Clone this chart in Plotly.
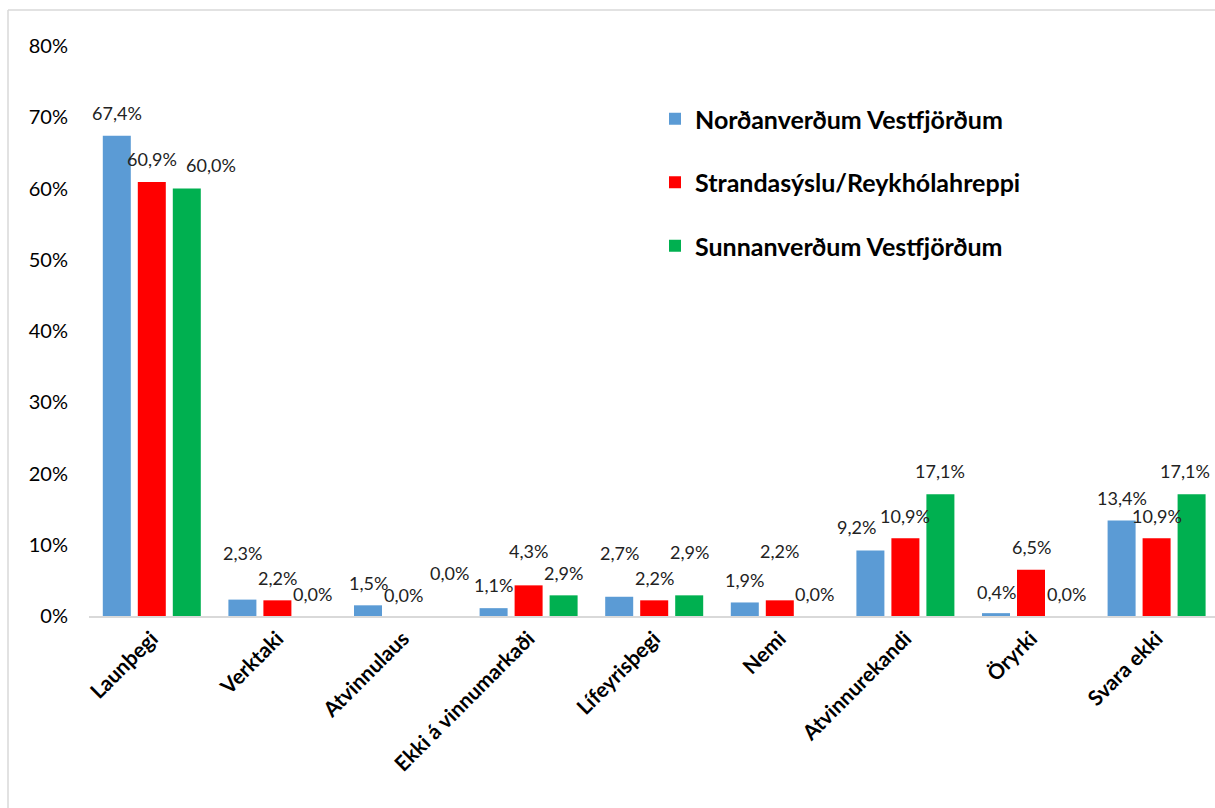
import plotly.graph_objects as go

# ---------------- data ----------------
categories = ["Launþegi", "Verktaki", "Atvinnulaus", "Ekki á vinnumarkaði",
              "Lífeyrisþegi", "Nemi", "Atvinnurekandi", "Öryrki", "Svara ekki"]
series_names = ["Norðanverðum Vestfjörðum",
                "Strandasýslu/Reykhólahreppi",
                "Sunnanverðum Vestfjörðum"]
nordan = [67.4, 2.3, 1.5, 1.1, 2.7, 1.9, 9.2, 0.4, 13.4]
stranda = [60.9, 2.2, 0.0, 4.3, 2.2, 2.2, 10.9, 6.5, 10.9]
sunnan = [60.0, 0.0, 0.0, 2.9, 2.9, 0.0, 17.1, 0.0, 17.1]
y_ticks = [0, 10, 20, 30, 40, 50, 60, 70, 80]
y_tick_labels = ["0%", "10%", "20%", "30%", "40%", "50%", "60%", "70%", "80%"]

# ---------------- styles ----------------
colors = ["#5b9bd5", "#ff0000", "#00b050"]
# label offsets in pixels (style only)
label_dy = [
    [23, 47, 22, 23, 44, 22, 23, 21, 23],
    [23, 22, 21, 34, 22, 49, 22, 23, 22],
    [24, 22, 43, 22, 43, 22, 23, 22, 23],
]
label_dx = [
    [0, 0, 0, 0, 0, 0, -14, 0, 0],
    [0, 0, 0, 0, 0, 0, 0, 0, 0],
    [24, 0, 11, 0, 0, 0, 0, 0, -7],
]
slot_px = 35

W, H = 1215, 808
ML, MR, MT, MB = 89, 0, 46, 192
plot_w = W - ML - MR
plot_h = H - MT - MB

series = [nordan, stranda, sunnan]

fig = go.Figure()
for i, (name, vals) in enumerate(zip(series_names, series)):
    fig.add_trace(go.Bar(
        x=categories, y=vals, name=name,
        marker=dict(color=colors[i], line=dict(width=0)),
        legendgroup=f"g{i}",
        hoverinfo="skip",
    ))

annotations = []
for i, vals in enumerate(series):
    for j, v in enumerate(vals):
        annotations.append(dict(
            x=categories[j], y=v, xref="x", yref="y",
            text=f"{v:.1f}".replace(".", ",") + "%",
            showarrow=False,
            xshift=(i - 1) * slot_px + label_dx[i][j],
            yshift=label_dy[i][j],
            yanchor="middle", xanchor="center",
            font=dict(family="Lato", size=18, color="#222222"),
        ))


def px_x(p):
    return (p - ML) / plot_w


def px_y(p):
    return (H - MB - p) / plot_h


shapes = [
    dict(type="line", xref="paper", yref="paper",
         x0=px_x(8), x1=px_x(8), y0=px_y(10), y1=px_y(H),
         line=dict(color="#d9d9d9", width=1.5)),
    dict(type="line", xref="paper", yref="paper",
         x0=px_x(8), x1=px_x(W), y0=px_y(10), y1=px_y(10),
         line=dict(color="#d9d9d9", width=1.5)),
]

fig.update_layout(
    width=W, height=H,
    margin=dict(l=ML, r=MR, t=MT, b=MB, autoexpand=False),
    paper_bgcolor="white", plot_bgcolor="white",
    barmode="group", bargap=0.164, bargroupgap=0.2,
    font=dict(family="Lato", color="#000000"),
    showlegend=True,
    legend=dict(
        x=px_x(655), y=px_y(96), xanchor="left", yanchor="top",
        font=dict(family="Lato", size=25, color="#000000", weight="bold"),
        tracegroupgap=28, itemwidth=30, bgcolor="rgba(0,0,0,0)",
        traceorder="grouped",
    ),
    annotations=annotations,
    shapes=shapes,
    xaxis=dict(
        range=[-0.5, 8.465],
        showgrid=False, showline=True, linecolor="#d9d9d9", linewidth=2,
        ticks="", tickangle=-45,
        tickfont=dict(family="Lato", size=21, color="#000000", weight="bold"),
        fixedrange=True,
    ),
    yaxis=dict(
        range=[0, 80], tickvals=y_ticks, ticktext=y_tick_labels,
        showgrid=False, showline=False, zeroline=False, ticks="",
        tickfont=dict(family="Lato", size=20, color="#000000"),
        ticklabelstandoff=20,
        fixedrange=True,
    ),
)

fig.write_html(
    "out.html",
    config={"displayModeBar": False},
    post_script="document.body.style.margin='0';document.body.style.overflow='hidden';",
)
